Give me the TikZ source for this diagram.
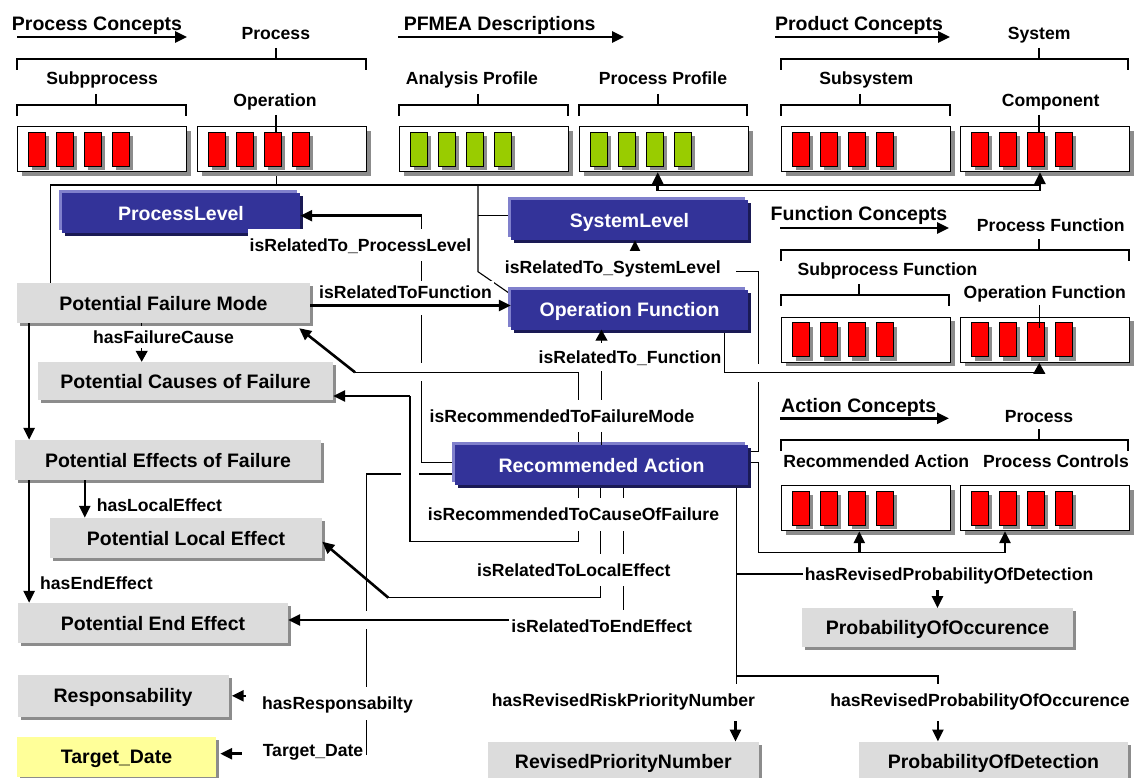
\documentclass[tikz,border=0pt]{standalone}
\usepackage{fontspec}
\setmainfont{Liberation Sans}
\usepackage{tikz}
\usetikzlibrary{arrows.meta, positioning, shadows, backgrounds, calc}
\definecolor{conceptgray}{HTML}{DCDCDC}
\definecolor{shadegray}{HTML}{8C8C8C}
\definecolor{relblue}{HTML}{333399}
\definecolor{relhigh}{HTML}{8080CC}
\definecolor{reldark}{HTML}{1A1A55}
\definecolor{barred}{HTML}{FF0000}
\definecolor{bargreen}{HTML}{99CC00}
\definecolor{dateyellow}{HTML}{FFFF99}

\begin{document}
\begin{tikzpicture}[
    x=1pt, y=-1pt,
    bigtext/.style={font={\fontsize{19.5}{22}\selectfont\bfseries}, text height=18.2pt, text depth=4.2pt},
    smalltext/.style={font={\fontsize{17.6}{20}\selectfont\bfseries}, text height=16.5pt, text depth=3.9pt},
    grouphead/.style={bigtext, inner sep=0pt},
    lvlhead/.style={smalltext, inner sep=0pt},
    conceptbox/.style={bigtext, fill=conceptgray, minimum height=40pt, inner sep=0pt,
                drop shadow={shadow xshift=3pt, shadow yshift=-3pt, fill=shadegray, opacity=1}},
    relbox/.style={bigtext, fill=relblue, text=white, minimum height=40pt, inner sep=0pt,
                general shadow={fill=relhigh, shadow xshift=-3pt, shadow yshift=3pt},
                general shadow={fill=reldark, shadow xshift=3pt, shadow yshift=-3pt}},
    rellabel/.style={smalltext, fill=white, inner xsep=2pt, inner ysep=6pt},
    barbox/.style={draw, fill=white, line width=1.2pt, minimum width=169pt,
                minimum height=45pt, inner sep=0pt, anchor=north west,
                drop shadow={shadow xshift=4pt, shadow yshift=-4pt, fill=shadegray, opacity=1}},
    barcell/.style={draw, line width=1pt, minimum width=17pt, minimum height=34pt, inner sep=0pt,
                drop shadow={shadow xshift=4pt, shadow yshift=-4pt, fill=shadegray, opacity=1}},
    bracket/.style={line width=1.1pt},
    link/.style={line width=1.1pt},
    linktip/.style={line width=1.1pt, -{Triangle[length=11pt, width=12pt]}},
    into/.style={line width=2.6pt, -{Triangle[length=12pt, width=11pt]}},
    outof/.style={line width=2.6pt, {Triangle[length=12pt, width=11pt]}-},
    crossing/.style={preaction={draw=white, line width=18pt, arrows=-, shorten <=6pt, shorten >=6pt}}
  ]
  \useasboundingbox (0,0) rectangle (1137,778);

  % concept groups
  \node[grouphead] (pcon) at (97,23.3) {Process Concepts};
  \node[grouphead] (pfmea) at (499.7,23.3) {PFMEA Descriptions};
  \node[grouphead] (prod) at (859,23.3) {Product Concepts};
  \node[grouphead] (fcon) at (859,213.3) {Function Concepts};
  \node[grouphead] (acon) at (858.7,405) {Action Concepts};
  \foreach \xa/\xb/\y in {17/187/37, 398/624/37, 775/950/37, 780/949/228, 780/949/418.3}
    \draw[into] (\xa,\y) -- (\xb,\y);

  \node[lvlhead] (hproc) at (275.8,33.3) {Process};
  \node[lvlhead] (hsub) at (102.2,78.3) {Subpprocess};
  \node[lvlhead] (hop) at (275,100.7) {Operation};
  \node[lvlhead] (hana) at (472,78.3) {Analysis Profile};
  \node[lvlhead] (hpp) at (663,78.3) {Process Profile};
  \node[lvlhead] (hsys) at (1039.2,33.3) {System};
  \node[lvlhead] (hssys) at (866.3,78.3) {Subsystem};
  \node[lvlhead] (hcomp) at (1050.7,100.7) {Component};
  \node[lvlhead] (hpf) at (1050.8,225) {Process Function};
  \node[lvlhead] (hspf) at (887.5,269) {Subprocess Function};
  \node[lvlhead] (hopf) at (1044.7,291.7) {Operation Function};
  \node[lvlhead] (hact) at (1039,416) {Process};
  \node[lvlhead] (hra) at (876.3,460.7) {Recommended Action};
  \node[lvlhead] (hpc) at (1056,460.7) {Process Controls};

  \foreach \xa/\xb/\xm/\y in {17/366/276/59, 17/186/96/105, 399/568/478/105, 579/747/658/105,
      781/1128/1039/59, 781/950/860/105, 781/1129/1039/250, 781/949/859/295, 781/1128/1039/440}
    \draw[bracket] (\xa,\y+11) |- (\xm,\y) -| (\xb,\y+11) (\xm,\y-11) -- (\xm,\y);

  % bar boxes
  \foreach \nm/\x/\y/\col in {subproc/17/126/barred, oper/197/126/barred,
      anaprof/399/126/bargreen, procprof/579/126/bargreen,
      subsys/781/126/barred, comp/960/126/barred,
      subfunc/781/316.7/barred, opfunc/960/316.7/barred,
      recact/781/485/barred, procctl/960/485/barred}{
    \node[barbox] (\nm) at (\x,\y) {};
    \foreach \i in {0,...,3}
      \node[barcell, fill=\col] at ([xshift={19.5pt+28pt*\i}]\nm.west) {};
  }
  \foreach \x/\ya/\yb in {276/115/132, 1039/115/133, 1039.3/305/328}
    \draw[bracket] (\x,\ya) -- (\x,\yb);

  % ontology nodes
  \node[relbox, minimum width=238pt] (plevel) at (181,213) {ProcessLevel};
  \node[relbox, minimum width=237pt] (slevel) at (629.5,220) {SystemLevel};
  \node[relbox, minimum width=237pt] (opfn) at (629.5,309.5) {Operation Function};
  \node[relbox, minimum width=293pt] (ract) at (601.5,465) {Recommended Action};
  \node[conceptbox, minimum width=293pt] (fmode) at (163.5,303) {Potential Failure Mode};
  \node[conceptbox, minimum width=295pt, minimum height=38pt] (fcause) at (185.5,381) {Potential Causes of Failure};
  \node[conceptbox, minimum width=306pt] (feffect) at (168,460) {Potential Effects of Failure};
  \node[conceptbox, minimum width=272pt] (loceff) at (186,538) {Potential Local Effect};
  \node[conceptbox, minimum width=270pt] (endeff) at (153,623) {Potential End Effect};
  \node[conceptbox, minimum width=211pt, minimum height=41.7pt] (resp) at (123,695.8) {Responsability};
  \node[conceptbox, fill=dateyellow, minimum width=199pt] (tdate) at (116.5,756.7) {Target\_Date};
  \node[conceptbox, minimum width=271.6pt, minimum height=38.4pt] (occur) at (937.5,627.5) {ProbabilityOfOccurence};
  \node[conceptbox, minimum width=270.6pt] (rpn) at (623.3,761.7) {RevisedPriorityNumber};
  \node[conceptbox, minimum width=269pt] (detect) at (993.5,761.7) {ProbabilityOfDetection};

  % arrows
  \coordinate (ppfork) at (657.7,190.7);
  \coordinate (cpfork) at (1040,190.7);
  \coordinate (offork) at (1039.3,372.7);
  \coordinate (rafork) at (859.3,552.7);
  \coordinate (pcfork) at (1005,552.7);
  \coordinate (fm) at ([yshift=-2.5pt]fmode.east);
  \draw[into] (ppfork) -- (ppfork |- procprof.south);
  \draw[into] (cpfork) -- (cpfork |- comp.south);
  \draw[into] (rafork) -- (rafork |- recact.south);
  \draw[into] (pcfork) -- (pcfork |- procctl.south);
  \draw[linktip] (offork) -- (offork |- opfunc.south);
  \draw[into] (421.7,215.7) -- ([yshift=-2.7pt]plevel.east);
  \draw[into, crossing] (fm) -- (fm -| opfn.west);
  \draw[into] (355,372.3) -- ([shift={(-11pt,-5pt)}]fmode.south east);
  \draw[into] (410,396) -- ([yshift=-15pt]fcause.east);
  \draw[into] (388.3,597.7) -- ([yshift=-3.7pt]loceff.east);
  \draw[into, crossing] (623.3,620) -- ([yshift=3pt]endeff.east);
  \draw[into] ([xshift=12.3pt]fmode.south west) -- ([xshift=14.3pt]feffect.north west);
  \draw[into] ([xshift=70pt]feffect.south west) -- ([xshift=35pt]loceff.north west);
  \draw[into] ([xshift=14.3pt]feffect.south west) -- ([xshift=11.3pt]endeff.north west);
  \draw[outof] ([xshift=5.5pt]slevel.south) -- ++(0,14);
  \draw[linktip] (ract.north) -- ([xshift=-28pt]opfn.south);
  \draw[linktip] ([xshift=-21.8pt]fmode.south) -- ([xshift=-43.8pt]fcause.north);
  \draw[outof] (occur.north) -- ++(0,-22);
  \draw[outof] ([xshift=112.2pt]rpn.north) -- ++(0,-21);
  \draw[outof] ([xshift=-55.6pt]detect.north) -- ++(0,-21);
  \draw[outof] ([xshift=3pt]resp.east) -- ++(14,0);
  \draw[outof] ([shift={(4pt,3pt)}]tdate.east) -- ++(22,0);

  % relation labels
  \node[rellabel] (lplevel) at (360.5,245) {isRelatedTo\_ProcessLevel};
  \node[rellabel] (lslevel) at (612.8,267.3) {isRelatedTo\_SystemLevel};
  \node[rellabel, inner ysep=1pt] (lfunc) at (405.5,291.7) {isRelatedToFunction};
  \node[rellabel, inner ysep=1pt] (lcause) at (163.5,337) {hasFailureCause};
  \node[rellabel, inner ysep=4pt] (lopfn) at (630,356.7) {isRelatedTo\_Function};
  \node[rellabel] (lrfm) at (562,415.7) {isRecommendedToFailureMode};
  \node[rellabel, inner ysep=1pt, anchor=west] (lloc) at (94.7,505) {hasLocalEffect};
  \node[rellabel] (lrcf) at (573.5,514.3) {isRecommendedToCauseOfFailure};
  \node[rellabel] (lrle) at (573.8,570) {isRelatedToLocalEffect};
  \node[rellabel, inner ysep=1pt, anchor=west] (lend) at (38,583.3) {hasEndEffect};
  \node[rellabel] (lrpd) at (949,574) {hasRevisedProbabilityOfDetection};
  \node[rellabel] (lree) at (601.7,626) {isRelatedToEndEffect};
  \node[rellabel] (lresp) at (337.5,703.3) {hasResponsabilty};
  \node[rellabel, inner xsep=0pt] (ldate) at (313,750) {Target\_Date};
  \node[rellabel] (lrpn) at (623.5,700) {hasRevisedRiskPriorityNumber};
  \node[rellabel] (lrpo) at (980,700) {hasRevisedProbabilityOfOccurence};

  % routing lines
  \begin{scope}[on background layer]
    \draw[link] ([xshift=34pt]fmode.north west) |- (1040,185);
    \draw[link] ([xshift=-5.5pt]oper.south) -- ++(0,14);
    \draw[link] (ppfork) -- (cpfork);
    \draw[link] (478,185) -- (478,271.7) -- ([yshift=-5pt]opfn.north west);
    \draw[link] (478,215.7) -- ([yshift=4.3pt]slevel.west);
    \draw[link] ([yshift=2.7pt]ract.west) -| (421.7,215.7);
    \draw[link] ([yshift=-9pt]ract.west) -| (366.7,755);
    \draw[link, crossing] ([xshift=-23.2pt]ract.north) |- (355,372.3);
    \draw[link] ([yshift=-6.7pt]ract.north east) -| (758.3,271.7) -- (736,271.7);
    \draw[link, crossing] ([xshift=94.8pt]opfn.south) |- (offork);
    \draw[link, crossing] ([xshift=-23.2pt]ract.south) |- (410,541.7) -- (410,396);
    \draw[link] ([xshift=-0.8pt]ract.south) |- (388.3,597.7);
    \draw[link] ([xshift=21.8pt]ract.south) -- (623.3,620);
    \draw[link] ([yshift=2.7pt]ract.east) -| (758.3,552.7) -- (pcfork);
    \draw[link] ([xshift=-11.3pt]ract.south east) |- (938,676) -- (938,690);
    \draw[link] (736.7,676) -- (736.7,690);
    \draw[link] (736.7,574) -- (lrpd.west);
  \end{scope}
\end{tikzpicture}
\end{document}
